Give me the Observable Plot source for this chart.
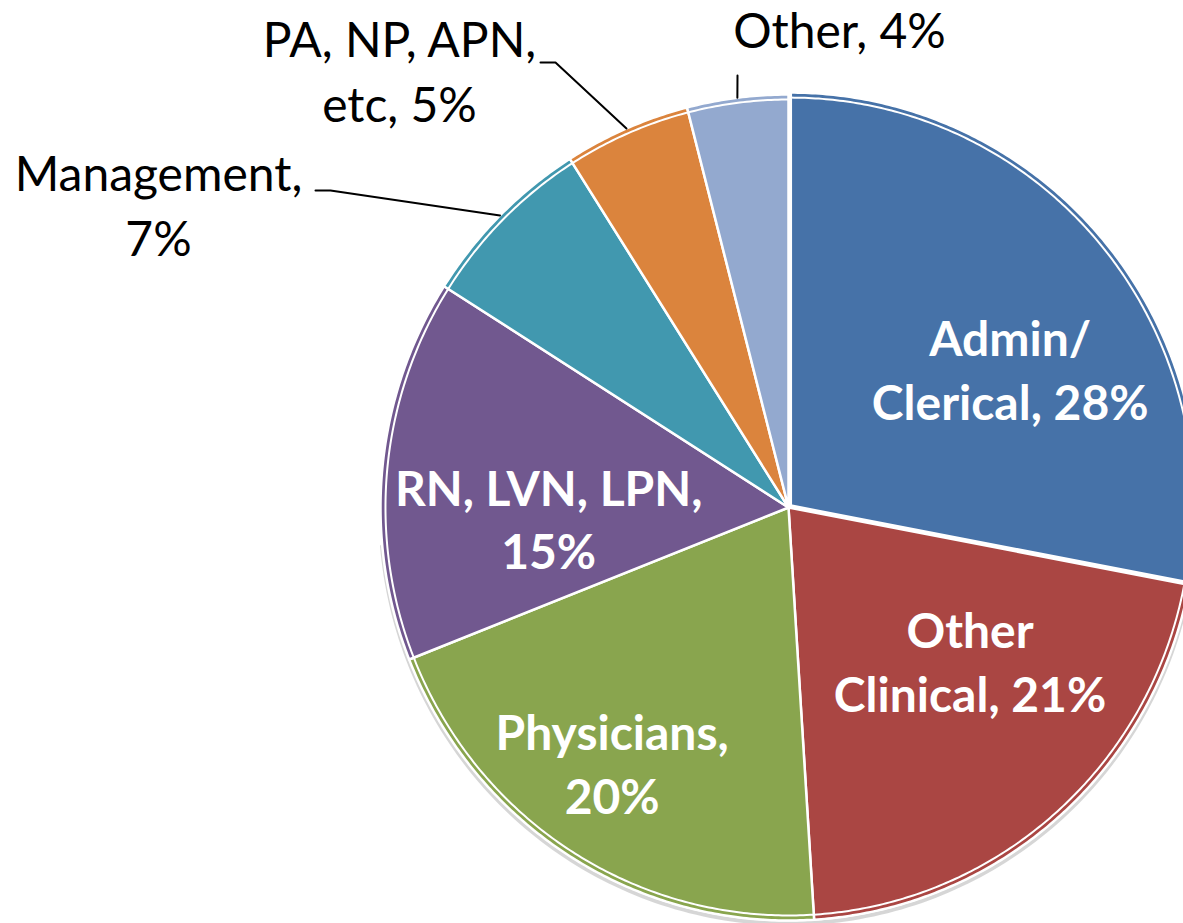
<!DOCTYPE html>
<html><head><meta charset="utf-8">
<script src="https://cdn.jsdelivr.net/npm/d3@7"></script>
<script src="https://cdn.jsdelivr.net/npm/@observablehq/plot@0.6"></script>
<style>html,body{margin:0;padding:0;background:#fff;overflow:hidden;}</style>
</head><body><div id="chart"></div>
<script>
// ---- data ----
const categories = ["Admin/Clerical", "Other Clinical", "Physicians", "RN, LVN, LPN", "Management", "PA, NP, APN, etc", "Other"];
const values = [28, 21, 20, 15, 7, 5, 4];
const labelHeads = ["Admin/\nClerical, ", "Other\nClinical, ", "Physicians,\n", "RN, LVN, LPN,\n", "Management,\n", "PA, NP, APN,\netc, ", "Other, "];
const colors = ["#4672A8", "#AA4643", "#89A54E", "#71588F", "#4198AF", "#DB843D", "#93A9CF"];

// ---- layout (pixels relative to the pie centre, y downward) ----
const W = 1183, H = 923, cx = 788, cy = 507, rx = 408, ry = 413;
const insidePolar = {"Admin/Clerical": [57.8, 262], "Other Clinical": [130.0, 237], "Physicians": [214.8, 309], "RN, LVN, LPN": [267.7, 240]};
const outsideLayout = {
  "Management": {tx: -630, ty: -305, leader: [[-473, -317], [-458, -317]]},
  "PA, NP, APN, etc": {tx: -389, ty: -439, leader: [[-248, -445], [-233, -445]]},
  "Other": {tx: 51, ty: -480, leader: [[-51, -432]]}
};
const explode = {"Admin/Clerical": 3};

const total = d3.sum(values);
const cum = [0];
values.forEach(v => cum.push(cum[cum.length - 1] + v));
const slices = categories.map((name, i) => ({name, value: values[i], a0: cum[i] / total * 360, a1: cum[i + 1] / total * 360}));
const rad = a => a * Math.PI / 180;
const pt = (a, r = 1, ox = 0, oy = 0) => ({x: ox + rx * r * Math.sin(rad(a)), y: oy - ry * r * Math.cos(rad(a))});

function arcPts(s, r, withCenter) {
  const e = explode[s.name] || 0, am = (s.a0 + s.a1) / 2;
  const ox = e * Math.sin(rad(am)), oy = -e * Math.cos(rad(am));
  const pts = [];
  if (withCenter) pts.push({x: ox, y: oy});
  const n = Math.max(2, Math.ceil((s.a1 - s.a0) / 0.5));
  for (let k = 0; k <= n; k++) pts.push(pt(s.a0 + (s.a1 - s.a0) * k / n, r, ox, oy));
  if (withCenter) pts.push({x: ox, y: oy});
  return pts.map(p => ({...p, name: s.name}));
}
const wedges = slices.flatMap(s => arcPts(s, 1, true));
const innerArcs = slices.flatMap(s => arcPts(s, 1 - 5 / 410, false));
const shadow = d3.range(95, 266, 1).map(a => { const p = pt(a, 1); return {x: p.x, y: p.y + 3}; });

const labels = slices.map((s, i) => {
  const text = labelHeads[i] + s.value + "%";
  if (insidePolar[s.name]) {
    const [a, r] = insidePolar[s.name];
    return {name: s.name, text, inside: true, x: r * Math.sin(rad(a)), y: -r * Math.cos(rad(a))};
  }
  const L = outsideLayout[s.name];
  return {name: s.name, text, inside: false, x: L.tx, y: L.ty};
});
const leaders = slices.filter(s => outsideLayout[s.name]).flatMap(s => {
  const L = outsideLayout[s.name];
  const edge = pt((s.a0 + s.a1) / 2, 1);
  return [...L.leader.map(([x, y]) => ({x, y})), edge].map(p => ({...p, name: s.name}));
});

const font = "Lato, 'Open Sans', sans-serif";
const chart = Plot.plot({
  width: W, height: H, margin: 0,
  x: {domain: [-cx, W - cx], range: [0, W], axis: null},
  y: {domain: [-cy, H - cy], range: [0, H], axis: null},
  color: {domain: categories, range: colors},
  style: {background: "#fff"},
  marks: [
    Plot.line(shadow, {x: "x", y: "y", stroke: "#bbbbbb", strokeWidth: 4, strokeOpacity: 0.6}),
    Plot.line(wedges, {x: "x", y: "y", z: "name", fill: "name", stroke: "white", strokeWidth: 2.5}),
    Plot.line(innerArcs, {x: "x", y: "y", z: "name", stroke: "white", strokeWidth: 2}),
    Plot.line(leaders, {x: "x", y: "y", z: "name", stroke: "black", strokeWidth: 2, curve: "linear"}),
    Plot.text(labels.filter(d => d.inside), {x: "x", y: "y", text: "text", fill: "white", fontSize: 48, fontWeight: "bold", fontFamily: font, lineHeight: 1.33}),
    Plot.text(labels.filter(d => !d.inside), {x: "x", y: "y", text: "text", fill: "black", fontSize: 48, fontFamily: font, lineHeight: 1.35})
  ]
});
document.getElementById("chart").append(chart);
</script>
</body></html>
